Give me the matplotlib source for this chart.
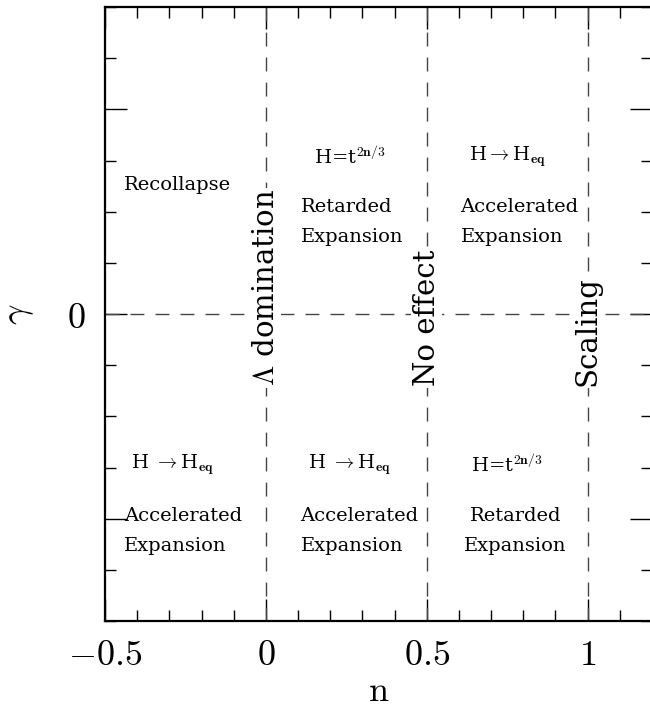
import matplotlib
matplotlib.use('Agg')
from matplotlib import pyplot as plt
from matplotlib.ticker import MultipleLocator

plt.rcParams['mathtext.fontset'] = 'cm'

# region boundaries in n and gamma
n_bounds = [0.0, 0.5, 1.0]
gamma_bound = 0.0

# vertical boundary labels: (n, gamma of lower end, text)
bound_labels = [(0.0, -0.353, r'$\Lambda$ domination'),
                (0.5, -0.353, 'No effect'),
                (1.0, -0.353, 'Scaling')]

# behaviour of H in each region: (n, gamma, text)
h_labels = [(0.26, 0.77, r'H=t$^{\mathbf{2n/3}}$'),
            (0.75, 0.77, r'H$\rightarrow$H$_{\mathbf{eq}}$'),
            (-0.29, -0.735, r'H $\rightarrow$H$_{\mathbf{eq}}$'),
            (0.26, -0.735, r'H $\rightarrow$H$_{\mathbf{eq}}$'),
            (0.75, -0.735, r'H=t$^{\mathbf{2n/3}}$')]

# expansion type: (n left edge, gamma, text, alignment)
exp_labels = [(-0.44, 0.63, 'Recollapse', 'left'),
              (0.108, 0.45, 'Retarded\nExpansion', 'left'),
              (0.605, 0.45, 'Accelerated\nExpansion', 'left'),
              (-0.44, -1.06, 'Accelerated\nExpansion', 'left'),
              (0.108, -1.06, 'Accelerated\nExpansion', 'left'),
              (0.605, -1.06, 'Retarded\nExpansion', 'center')]

fig = plt.figure(figsize=(6.5, 7.15), dpi=100)
ax = fig.add_axes([0.1615, 0.1315, 0.8415, 0.8585])
ax.set_xlim(-0.5, 1.2)
ax.set_ylim(-1.5, 1.5)

dash = dict(color='#444444', lw=1.0, dashes=(10, 8))
for nb in n_bounds:
    ax.axvline(nb, **dash)
ax.axhline(gamma_bound, **dash)

tf = dict(family='DejaVu Serif', fontsize=14)
for x, y, s in bound_labels:
    ax.text(x, y, s, rotation=90, ha='center', va='bottom', family='DejaVu Serif',
            fontsize=21, bbox=dict(fc='white', ec='none', pad=1))
for x, y, s in h_labels:
    ax.text(x, y, s, ha='center', va='center', **tf)
for x, y, s, al in exp_labels:
    if al == 'center':
        ax.text(x + 0.17, y, s, ha='center', va='center', multialignment='center',
                linespacing=1.8, **tf)
    else:
        ax.text(x, y, s, ha='left', va='center', linespacing=1.8, **tf)

ax.xaxis.set_major_locator(MultipleLocator(0.5))
ax.xaxis.set_minor_locator(MultipleLocator(0.1))
ax.yaxis.set_major_locator(MultipleLocator(1.0))
ax.yaxis.set_minor_locator(MultipleLocator(0.25))
ax.set_xticks([-0.5, 0, 0.5, 1])
ax.set_xticklabels([r'$-0.5$', r'$0$', r'$0.5$', r'$1$'])
ax.set_yticks([-1, 0, 1])
ax.set_yticklabels(['', r'$0$', ''])
ax.tick_params(which='both', direction='in', top=True, right=True, width=1, labelsize=26)
ax.tick_params(axis='x', pad=12)
ax.tick_params(axis='y', pad=14)
ax.tick_params(which='major', length=16)
ax.tick_params(which='minor', length=8)
for sp in ax.spines.values():
    sp.set_linewidth(1.6)

ax.set_xlabel(r'$\mathrm{n}$', fontsize=26, labelpad=2)
ax.set_ylabel(r'$\gamma$', fontsize=26, labelpad=22)

fig.savefig('out.png', dpi=100)
